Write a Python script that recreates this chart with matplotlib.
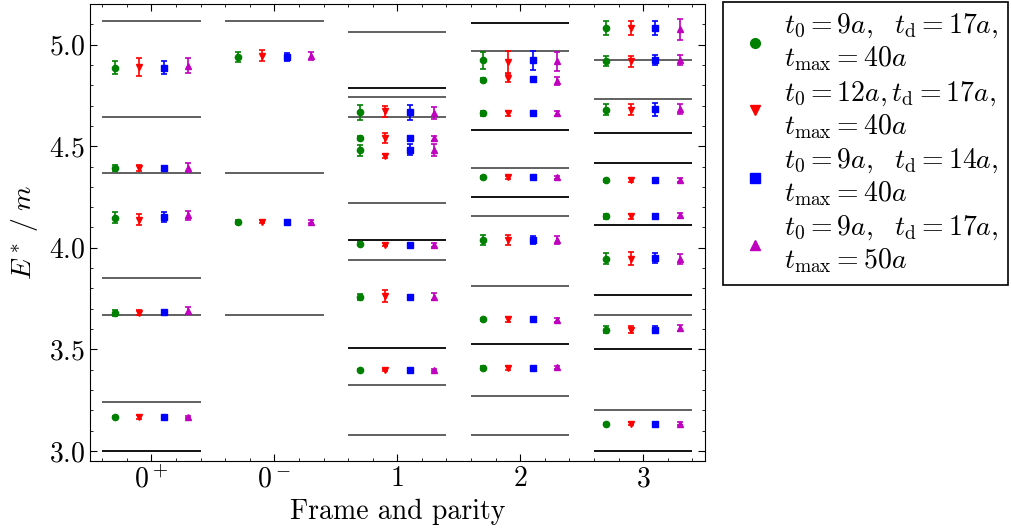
import matplotlib
matplotlib.use("Agg")
import matplotlib.pyplot as plt
from matplotlib.lines import Line2D
from matplotlib.ticker import MultipleLocator
import numpy as np

plt.rcParams['font.family'] = 'serif'
plt.rcParams['font.serif'] = ['cmr10']
plt.rcParams['mathtext.fontset'] = 'cm'
plt.rcParams['axes.formatter.use_mathtext'] = True

# frames / irreps on the x axis
frames = [r'$0^+$', r'$0^-$', r'$1$', r'$2$', r'$3$']

# non-interacting levels (gray: single, black: degenerate)
levels_gray = [
    [5.116, 4.645, 4.368, 3.851, 3.668, 3.242],
    [5.116, 4.368, 3.668],
    [5.062, 4.740, 4.646, 4.219, 3.939, 3.324, 3.079],
    [4.969, 4.391, 4.154, 3.810, 3.272, 3.079],
    [4.923, 4.733, 3.668, 3.201],
]
levels_black = [
    [3.000],
    [],
    [4.784, 4.036, 3.509],
    [5.108, 4.580, 4.249, 3.525],
    [4.563, 4.418, 4.113, 3.769, 3.504, 3.000],
]

# fitted energies, t0=9a, td=17a, tmax=40a
E_a = [[4.887, 4.393, 4.149, 3.681, 3.167],
       [4.941, 4.129],
       [4.666, 4.542, 4.481, 4.020, 3.758, 3.398],
       [4.923, 4.828, 4.661, 4.347, 4.039, 3.648, 3.408],
       [5.083, 4.920, 4.679, 4.332, 4.154, 3.946, 3.597, 3.134]]
dE_a = [[0.030, 0.013, 0.025, 0.015, 0.005],
        [0.025, 0.010],
        [0.036, 0.010, 0.027, 0.008, 0.013, 0.004],
        [0.041, 0.010, 0.010, 0.008, 0.024, 0.008, 0.008],
        [0.034, 0.026, 0.027, 0.008, 0.010, 0.026, 0.018, 0.005]]

# t0=12a, td=17a, tmax=40a
E_b = [[4.890, 4.393, 4.139, 3.680, 3.167],
       [4.945, 4.129],
       [4.671, 4.540, 4.452, 4.015, 3.763, 3.398],
       [4.912, 4.838, 4.661, 4.347, 4.039, 3.648, 3.408],
       [5.083, 4.917, 4.679, 4.333, 4.154, 3.945, 3.597, 3.134]]
dE_b = [[0.044, 0.015, 0.026, 0.012, 0.008],
        [0.027, 0.008],
        [0.027, 0.025, 0.008, 0.008, 0.028, 0.006],
        [0.057, 0.023, 0.010, 0.008, 0.025, 0.012, 0.010],
        [0.034, 0.026, 0.027, 0.008, 0.012, 0.032, 0.018, 0.007]]

# t0=9a, td=14a, tmax=40a
E_c = [[4.887, 4.393, 4.150, 3.683, 3.167],
       [4.941, 4.129],
       [4.666, 4.542, 4.483, 4.016, 3.756, 3.398],
       [4.923, 4.830, 4.661, 4.347, 4.039, 3.648, 3.408],
       [5.083, 4.923, 4.682, 4.333, 4.154, 3.949, 3.597, 3.134]]
dE_c = [[0.033, 0.010, 0.025, 0.010, 0.005],
        [0.020, 0.008],
        [0.036, 0.008, 0.026, 0.006, 0.010, 0.005],
        [0.047, 0.008, 0.008, 0.006, 0.020, 0.008, 0.006],
        [0.034, 0.025, 0.031, 0.006, 0.010, 0.026, 0.018, 0.005]]

# t0=9a, td=17a, tmax=50a
E_d = [[4.895, 4.395, 4.159, 3.690, 3.167],
       [4.943, 4.129],
       [4.663, 4.540, 4.481, 4.012, 3.760, 3.398],
       [4.917, 4.822, 4.661, 4.347, 4.039, 3.643, 3.411],
       [5.075, 4.925, 4.684, 4.333, 4.159, 3.943, 3.607, 3.134]]
dE_d = [[0.037, 0.020, 0.020, 0.017, 0.006],
        [0.020, 0.008],
        [0.028, 0.012, 0.030, 0.010, 0.015, 0.005],
        [0.047, 0.020, 0.010, 0.008, 0.020, 0.010, 0.008],
        [0.050, 0.025, 0.024, 0.008, 0.012, 0.025, 0.015, 0.006]]

labels = [
    r'$t_0=9a,\ \ t_{\rm d}=17a,$' + '\n' + r'$t_{\rm max}=40a$',
    r'$t_0=12a, t_{\rm d}=17a,$' + '\n' + r'$t_{\rm max}=40a$',
    r'$t_0=9a,\ \ t_{\rm d}=14a,$' + '\n' + r'$t_{\rm max}=40a$',
    r'$t_0=9a,\ \ t_{\rm d}=17a,$' + '\n' + r'$t_{\rm max}=50a$',
]

series = [(E_a, dE_a), (E_b, dE_b), (E_c, dE_c), (E_d, dE_d)]
colors = ['green', 'red', 'blue', 'm']
markers = ['o', 'v', 's', '^']
offsets = [-0.3, -0.1, 0.1, 0.3]

fig = plt.figure(figsize=(10.11, 5.30), dpi=100)
ax = fig.add_axes([0.089, 0.130, 0.608, 0.8625])

for i in range(len(frames)):
    if levels_gray[i]:
        ax.hlines(levels_gray[i], i - 0.4, i + 0.4, colors='0.33', lw=1.3)
    if levels_black[i]:
        ax.hlines(levels_black[i], i - 0.4, i + 0.4, colors='k', lw=1.3)

for (E, dE), c, mk, off in zip(series, colors, markers, offsets):
    for i in range(len(frames)):
        x = np.full(len(E[i]), i + off)
        ax.errorbar(x, E[i], yerr=dE[i], fmt=mk, color=c, ms=4.5,
                    capsize=2.5, elinewidth=1.2, capthick=1.2, ls='none')

ax.set_xlim(-0.5, 4.5)
ax.set_ylim(2.95, 5.2)
ax.set_xticks(range(len(frames)))
ax.set_xticklabels(frames)
ax.xaxis.set_minor_locator(MultipleLocator(0.2))
ax.yaxis.set_major_locator(MultipleLocator(0.5))
ax.yaxis.set_minor_locator(MultipleLocator(0.1))
ax.tick_params(which='both', direction='in', top=True, right=True, labelsize=20)
ax.tick_params(which='major', length=5)
ax.tick_params(which='minor', length=2.5)
ax.set_xlabel('Frame and parity', fontsize=20, labelpad=4)
ax.set_ylabel(r'$E^*\;/\;m$', fontsize=20, labelpad=6)

handles = [Line2D([], [], ls='none', marker=mk, color=c, markersize=7)
           for c, mk in zip(colors, markers)]
leg = fig.legend(handles, labels, loc='upper left', bbox_to_anchor=(0.715, 0.996),
                 fontsize=20, fancybox=False, edgecolor='k', framealpha=1,
                 borderaxespad=0, handlelength=1.6, handletextpad=0.25,
                 labelspacing=0.2, borderpad=0.35)
leg.get_frame().set_linewidth(1.2)

fig.savefig('out.png', dpi=100)
